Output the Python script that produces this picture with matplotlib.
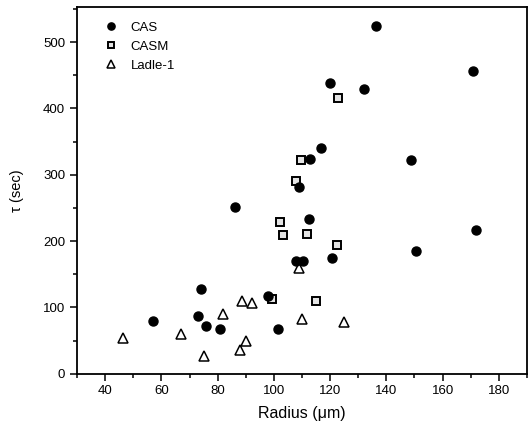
import numpy as np
import matplotlib
matplotlib.use("Agg")
from matplotlib import pyplot as plt
from matplotlib.ticker import MultipleLocator

plt.rcParams["font.family"] = ["Liberation Sans", "DejaVu Sans"]

# relaxation time vs. inclusion radius
cas_r = [57, 74, 73, 76, 81, 86, 98, 101.5, 108, 110.5, 112.6, 120.7, 108.8, 112.9, 116.9, 119.9, 131.9, 136.2, 148.9, 170.9, 150.7, 172]
cas_tau = [80, 128, 87, 72, 68, 251, 117, 67, 170, 170, 233, 175, 282, 323, 341, 439, 429, 525, 322, 456, 185, 217]

casm_r = [122.9, 109.8, 107.8, 102, 103.4, 111.6, 122.6, 99.2, 114.8]
casm_tau = [415, 322, 290, 228, 209, 211, 194, 113, 109]

ladle_r = [46.2, 67.1, 75, 81.9, 88.7, 92.1, 88, 90.2, 108.9, 110, 124.8]
ladle_tau = [54, 60, 27, 90, 109, 106, 35, 49, 160, 82, 78]

fig = plt.figure(figsize=(5.28, 4.34), dpi=100)
ax = fig.add_axes([0.146, 0.139, 0.852, 0.845])

ax.plot(cas_r, cas_tau, "o", color="black", markersize=6.5, label="CAS", zorder=3)
ax.plot(casm_r, casm_tau, "s", markerfacecolor="#e4e4e4", markeredgecolor="black",
        markeredgewidth=1.4, markersize=5.5, label="CASM", zorder=2)
ax.plot(ladle_r, ladle_tau, "^", markerfacecolor="white", markeredgecolor="black",
        markeredgewidth=1.1, markersize=7, label="Ladle-1", zorder=2)

ax.set_xlim(30, 190)
ax.set_ylim(0, 553)
ax.xaxis.set_major_locator(MultipleLocator(20))
ax.xaxis.set_minor_locator(MultipleLocator(10))
ax.yaxis.set_major_locator(MultipleLocator(100))
ax.yaxis.set_minor_locator(MultipleLocator(50))
ax.tick_params(which="both", direction="out", width=1.1, labelsize=9.5)
ax.tick_params(which="major", length=5)
ax.tick_params(which="minor", length=3)
for s in ax.spines.values():
    s.set_linewidth(1.3)

ax.set_xlabel("Radius (\u03bcm)", fontsize=11.5, labelpad=6)
ax.set_ylabel("\u03c4 (sec)", fontsize=10.5, labelpad=14)

leg = ax.legend(loc="upper left", frameon=False, fontsize=9.5, handletextpad=0.5,
                borderaxespad=0.3, labelspacing=0.5, markerscale=0.8,
                bbox_to_anchor=(0.025, 0.985))

fig.savefig("out.png", dpi=100)
